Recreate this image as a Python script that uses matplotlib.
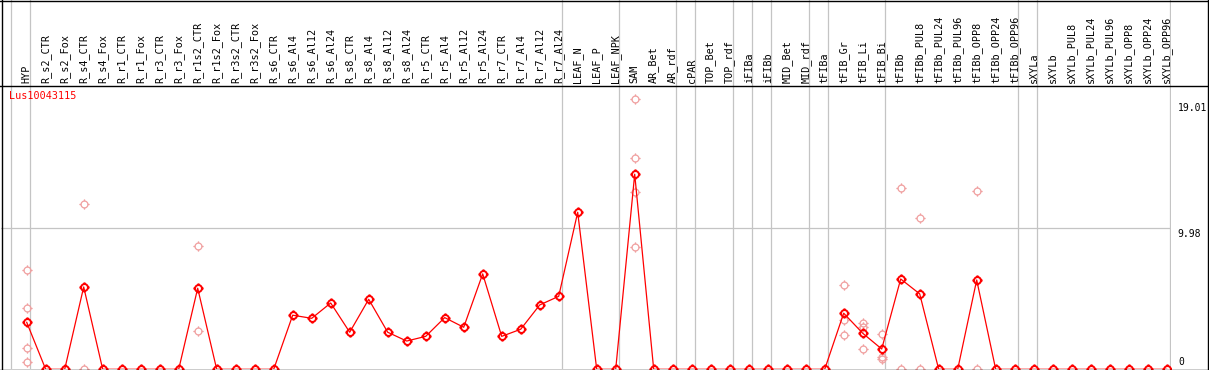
import matplotlib
matplotlib.use("Agg")
import matplotlib.pyplot as plt
from matplotlib.path import Path
from matplotlib.lines import Line2D
import numpy as np

# ---------------- data ----------------
categories = [
    "HYP",
    "R_s2_CTR", "R_s2_Fox", "R_s4_CTR", "R_s4_Fox", "R_r1_CTR", "R_r1_Fox",
    "R_r3_CTR", "R_r3_Fox", "R_r1s2_CTR", "R_r1s2_Fox", "R_r3s2_CTR", "R_r3s2_Fox",
    "R_s6_CTR", "R_s6_Al4", "R_s6_Al12", "R_s6_Al24",
    "R_s8_CTR", "R_s8_Al4", "R_s8_Al12", "R_s8_Al24",
    "R_r5_CTR", "R_r5_Al4", "R_r5_Al12", "R_r5_Al24",
    "R_r7_CTR", "R_r7_Al4", "R_r7_Al12", "R_r7_Al24",
    "LEAF_N", "LEAF_P", "LEAF_NPK",
    "SAM", "AR_Bet", "AR_rdf",
    "cPAR",
    "TOP_Bet", "TOP_rdf",
    "iFIBa",
    "iFIBb",
    "MID_Bet", "MID_rdf",
    "tFIBa",
    "tFIB_Gr", "tFIB_Li", "tFIB_Bi",
    "tFIBb", "tFIBb_PUL8", "tFIBb_PUL24", "tFIBb_PUL96", "tFIBb_OPP8", "tFIBb_OPP24", "tFIBb_OPP96",
    "sXYLa",
    "sXYLb", "sXYLb_PUL8", "sXYLb_PUL24", "sXYLb_PUL96", "sXYLb_OPP8", "sXYLb_OPP24", "sXYLb_OPP96",
]
group_sizes = [1, 28, 3, 3, 1, 2, 1, 1, 2, 1, 3, 7, 1, 7]

mean_values = [
    3.31,
    0, 0, 5.80, 0, 0, 0, 0, 0, 5.71, 0, 0, 0,
    0, 3.81, 3.59, 4.67,
    2.61, 4.93, 2.61, 1.99,
    2.32, 3.64, 2.96, 6.72,
    2.32, 2.82, 4.53, 5.14,
    11.06, 0, 0,
    13.74, 0, 0,
    0,
    0, 0,
    0,
    0,
    0, 0,
    0,
    3.95, 2.54, 1.43,
    6.36, 5.31, 0, 0, 6.29, 0, 0,
    0,
    0, 0, 0, 0, 0, 0, 0,
]

replicates = {
    "HYP": [6.98, 4.30, 1.48, 0.49],
    "R_s4_CTR": [11.63, 0.0],
    "R_r1s2_CTR": [8.69, 2.70],
    "SAM": [19.01, 14.87, 12.52, 8.62],
    "tFIB_Gr": [5.92, 3.47, 2.42],
    "tFIB_Li": [3.28, 2.96, 1.41],
    "tFIB_Bi": [2.49, 0.89, 0.70],
    "tFIBb": [12.76, 0.0],
    "tFIBb_PUL8": [10.64, 0.0],
    "tFIBb_OPP8": [12.54, 0.0],
}

gene_name = "Lus10043115"
y_tick_values = [19.01, 9.98, 0]
y_tick_labels = ["19.01", "9.98", "0"]

# ---------------- layout (pixels) ----------------
W, H = 1209, 370
PLOT_LEFT, PLOT_RIGHT = 1.0, 1170.7
HEADER_Y, BASE_Y = 85.0, 369.3
X0, DX = 26.7, 19.0          # pixel of first column, column pitch
PX_PER_UNIT = 14.2

RED = "#ff0000"
PINK = "#f0a0a0"
GRID = "#c4c4c4"
MONO = ["DejaVu Sans Mono"]
FS = 7.3

fig = plt.figure(figsize=(W / 100, H / 100), dpi=100)
fig.patch.set_facecolor("white")

ax = fig.add_axes([PLOT_LEFT / W, (H - BASE_Y) / H,
                   (PLOT_RIGHT - PLOT_LEFT) / W, (BASE_Y - HEADER_Y) / H])
axh = fig.add_axes([PLOT_LEFT / W, (H - HEADER_Y) / H,
                    (PLOT_RIGHT - PLOT_LEFT) / W, HEADER_Y / H])

xlim = ((PLOT_LEFT - X0) / DX, (PLOT_RIGHT - X0) / DX)
ax.set_xlim(*xlim)
ax.set_ylim(0, (BASE_Y - HEADER_Y) / PX_PER_UNIT)
axh.set_xlim(*xlim)
axh.set_ylim(0, 1)
for a in (ax, axh):
    a.axis("off")

# marker: open circle (polygon) with four small ticks
t = np.linspace(0, 2 * np.pi, 41)
circ_verts = np.column_stack([np.cos(t), np.sin(t)])
circ_codes = [Path.MOVETO] + [Path.LINETO] * (len(t) - 1)
tick_verts = [(0, 1), (0, 1.5), (0, -1), (0, -1.5), (1, 0), (1.5, 0), (-1, 0), (-1.5, 0)]
tick_codes = [Path.MOVETO, Path.LINETO] * 4
marker_path = Path(np.vstack([circ_verts, tick_verts]), circ_codes + tick_codes)

# group separators
bounds = [-1 + 0.19] + [c - 1 + 0.19 for c in np.cumsum(group_sizes)]
for b in bounds:
    ax.axvline(b, color=GRID, lw=0.9, zorder=1)
    axh.axvline(b, color=GRID, lw=0.9, zorder=1)

# horizontal gridline
ax.axhline(y_tick_values[1], color=GRID, lw=0.9, zorder=1)

x = np.arange(len(categories))

# replicate points
for name, vals in replicates.items():
    i = categories.index(name)
    ax.plot([i] * len(vals), vals, linestyle="none", marker=marker_path, ms=7.4,
            mfc="none", mec=PINK, mew=0.9, zorder=2)

# mean line
ax.plot(x, mean_values, color=RED, lw=0.9, zorder=3)
ax.plot(x, mean_values, linestyle="none", marker=marker_path, ms=7.4,
        mfc="none", mec=RED, mew=1.4, zorder=4)

# header labels
for i, lab in enumerate(categories):
    axh.annotate(lab, xy=(i, 0), xytext=(0, 2), textcoords="offset pixels",
                 rotation=90, ha="center", va="bottom", fontsize=FS,
                 family=MONO, color="black")

# gene name
ax.annotate(gene_name, xy=(0, 1), xycoords="axes fraction", xytext=(8, -6),
            textcoords="offset pixels", ha="left", va="top", fontsize=FS,
            family=MONO, color=RED)

# value labels on the right
tr = ax.get_yaxis_transform()
offsets = [(7, -4), (7, -1), (8, 2)]
vas = ["top", "top", "bottom"]
for v, lab, off, va in zip(y_tick_values, y_tick_labels, offsets, vas):
    ax.annotate(lab, xy=(1, v), xycoords=tr, xytext=off, textcoords="offset pixels",
                ha="left", va=va, fontsize=7, family=MONO, color="black",
                annotation_clip=False)

# frame lines (figure decoration)
def hline(ypix, x0, x1, color="black"):
    yf = (H - ypix - 0.5) / H
    fig.add_artist(Line2D([x0 / W, x1 / W], [yf, yf], color=color, lw=1.0,
                          transform=fig.transFigure))

def vline(xpix, y0, y1, color="black"):
    xf = (xpix + 0.5) / W
    fig.add_artist(Line2D([xf, xf], [(H - y0) / H, (H - y1) / H], color=color, lw=1.0,
                          transform=fig.transFigure))

hline(0, 0, W)
hline(HEADER_Y, 0, W)
hline(369, 0, W)
vline(1, 0, H)
vline(1207.5, 0, H)

fig.savefig("out.png", dpi=100, facecolor="white")
